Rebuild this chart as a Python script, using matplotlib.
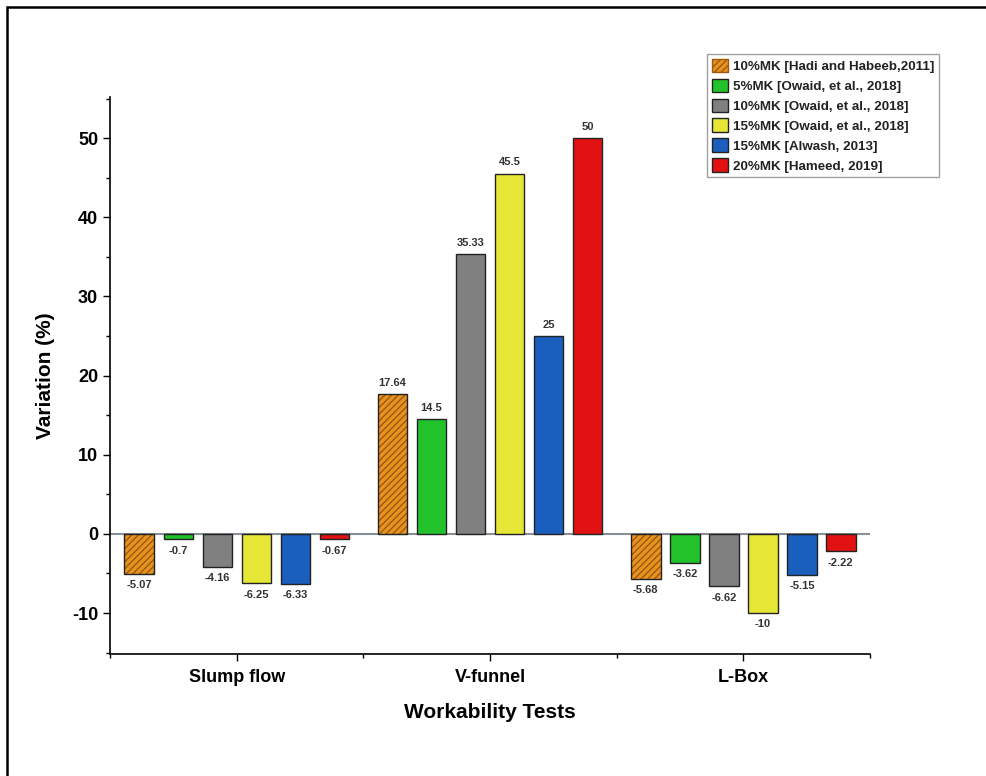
import numpy as np
import matplotlib.pyplot as plt
from matplotlib.patches import Rectangle, Patch
from matplotlib.ticker import MultipleLocator, FixedLocator

plt.rcParams['font.family'] = 'Liberation Sans'
plt.rcParams['font.weight'] = 'bold'
plt.rcParams['axes.unicode_minus'] = False

tests = ['Slump flow', 'V-funnel', 'L-Box']
series_labels = ['10%MK [Hadi and Habeeb,2011]',
                 '5%MK [Owaid, et al., 2018]',
                 '10%MK [Owaid, et al., 2018]',
                 '15%MK [Owaid, et al., 2018]',
                 '15%MK [Alwash, 2013]',
                 '20%MK [Hameed, 2019]']
hadi_2011 = [-5.07, 17.64, -5.68]
owaid5_2018 = [-0.7, 14.5, -3.62]
owaid10_2018 = [-4.16, 35.33, -6.62]
owaid15_2018 = [-6.25, 45.5, -10]
alwash_2013 = [-6.33, 25, -5.15]
hameed_2019 = [-0.67, 50, -2.22]
value_labels = [['-5.07', '17.64', '-5.68'],
                ['-0.7', '14.5', '-3.62'],
                ['-4.16', '35.33', '-6.62'],
                ['-6.25', '45.5', '-10'],
                ['-6.33', '25', '-5.15'],
                ['-0.67', '50', '-2.22']]

series = [hadi_2011, owaid5_2018, owaid10_2018, owaid15_2018, alwash_2013, hameed_2019]
colors = ['#E8931E', '#22C22A', '#808080', '#E6E636', '#1A5EBE', '#E21212']

fig = plt.figure(figsize=(9.87, 7.76), dpi=100)
ax = fig.add_axes([0.1115, 0.157, 0.770, 0.718])

x = np.arange(1, len(tests) + 1)
pitch = 0.154
width = 0.116
for k, (vals, col) in enumerate(zip(series, colors)):
    pos = x + (k - 2.5) * pitch
    if k == 0:
        ax.bar(pos, vals, width, color=col, edgecolor='#9A5A10', hatch='/////', linewidth=0)
        ax.bar(pos, vals, width, fill=False, edgecolor='#222222', linewidth=1.0)
    else:
        ax.bar(pos, vals, width, color=col, edgecolor='#222222', linewidth=1.0)
    for p, v, lab in zip(pos, vals, value_labels[k]):
        if v >= 0:
            ax.text(p, v + 0.8, lab, ha='center', va='bottom', fontsize=8, color='#333333')
        else:
            ax.text(p, v - 0.8, lab, ha='center', va='top', fontsize=8, color='#333333')

ax.axhline(0, color='#8A8E96', linewidth=1.5, zorder=0.5)

ax.set_xlim(0.5, 3.5)
ax.set_ylim(-15.2, 55.2)
ax.set_xticks(x)
ax.set_xticklabels(tests, fontsize=13, fontweight='bold')
ax.xaxis.set_minor_locator(FixedLocator([0.5, 1.5, 2.5, 3.5]))
ax.yaxis.set_major_locator(MultipleLocator(10))
ax.yaxis.set_minor_locator(MultipleLocator(5))
ax.tick_params(axis='both', which='major', length=5, width=1, direction='out')
ax.tick_params(axis='both', which='minor', length=3, width=1, direction='out')
ax.tick_params(axis='y', labelsize=13)
ax.tick_params(axis='x', pad=6)
for t in ax.get_yticklabels():
    t.set_fontweight('bold')

ax.spines['top'].set_visible(False)
ax.spines['right'].set_visible(False)
ax.spines['left'].set_linewidth(1.2)
ax.spines['bottom'].set_linewidth(1.2)

ax.set_xlabel('Workability Tests', fontsize=15, fontweight='bold', labelpad=12)
ax.set_ylabel('Variation (%)', fontsize=15, fontweight='bold', labelpad=12)

handles = []
for k, col in enumerate(colors):
    if k == 0:
        handles.append(Patch(facecolor=col, edgecolor='#9A5A10', hatch='/////', label=series_labels[k]))
    else:
        handles.append(Patch(facecolor=col, edgecolor='#222222', label=series_labels[k]))
leg = fig.legend(handles=handles, loc='upper right', bbox_to_anchor=(939 / 987, 1 - 54 / 776),
                 fontsize=9.6, frameon=True, fancybox=False, edgecolor='#888888',
                 handlelength=1.2, handleheight=1.2, handletextpad=0.4, labelspacing=0.42,
                 borderpad=0.35, borderaxespad=0)
leg.get_frame().set_linewidth(1.0)
for t in leg.get_texts():
    t.set_fontweight('bold')
    t.set_color('#222222')

fig.patches.append(Rectangle((7 / 987, -0.05), 1.1, 1 - 7 / 776 + 0.05, transform=fig.transFigure,
                             fill=False, edgecolor='black', linewidth=1.8))

fig.savefig('out.png', dpi=100)
